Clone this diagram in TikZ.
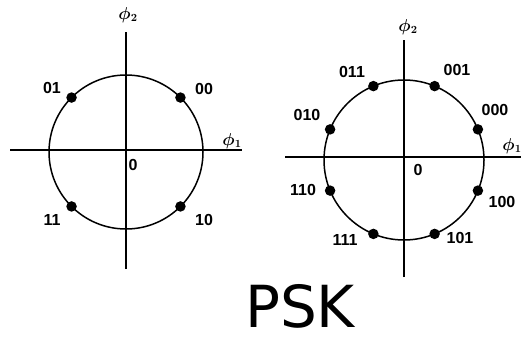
\documentclass[tikz,border=0pt]{standalone}
\usepackage{amsmath,amssymb}
\usepackage{fontspec}
\setsansfont{Liberation Sans}
\newfontfamily\pskfont{DejaVu Sans}
\usepackage{tikz}
\usetikzlibrary{positioning,calc}
\tikzset{
  axisline/.style={line width=2pt, color=black},
  ring/.style={line width=1.5pt, color=black},
  sym/.style={circle, fill=black, minimum size=10.5pt, inner sep=0pt},
  bits/.style={font=\sffamily\bfseries\fontsize{16}{16}\selectfont, inner sep=0pt},
  axlab/.style={font=\boldmath\fontsize{16}{16}\selectfont, inner sep=0pt},
  caphead/.style={font=\pskfont\fontsize{58}{58}\selectfont, inner sep=0pt},
}

\begin{document}
\begin{tikzpicture}[x=1pt,y=1pt]
  \useasboundingbox (0,0) rectangle (521,338);
  % four points (left)
  \begin{scope}[shift={(126,186)}]
    \coordinate (qw) at (-116,2); \coordinate (qe) at (116,2);
    \coordinate (qs) at (0,-117); \coordinate (qn) at (0,120);
    \draw[axisline] (qw) -- (qe);
    \draw[axisline] (qs) -- (qn);
    \draw[ring] (0,0) circle (77);
    \foreach \a/\b/\lx/\ly in {45/00/78/63, 135/01/-74/64, 225/11/-74/-68, 315/10/78/-68} {
      \node[sym] (q\b) at (\a:77) {};
      \node[bits] (ql\b) at (\lx,\ly) {\b};
    }
    \node[bits] (qo) at (7,-13) {0};
    \node[axlab] (qphi2) at (2,137) {$\phi_2$};
    \node[axlab] (qphi1) at (106,11) {$\phi_1$};
  \end{scope}
  % eight points (right)
  \begin{scope}[shift={(404,178)}]
    \coordinate (ew) at (-119,3); \coordinate (ee) at (117,3);
    \coordinate (es) at (0,-117); \coordinate (en) at (0,120);
    \draw[axisline] (ew) -- (ee);
    \draw[axisline] (es) -- (en);
    \draw[ring] (0,0) circle (80);
    \foreach \a/\b/\lx/\ly in {22.5/000/91/50, 67.5/001/53/90, 112.5/011/-52/88, 157.5/010/-97/45,
                               202.5/110/-101/-30, 247.5/111/-59/-80, 292.5/101/56/-78, 337.5/100/98/-42} {
      \node[sym] (e\b) at (\a:80) {};
      \node[bits] (el\b) at (\lx,\ly) {\b};
    }
    \node[bits] (eo) at (14,-10) {0};
    \node[axlab] (ephi2) at (4,133) {$\phi_2$};
    \node[axlab] (ephi1) at (108,14) {$\phi_1$};
  \end{scope}
  \node[caphead] (title) at (300,32) {PSK};
\end{tikzpicture}
\end{document}
